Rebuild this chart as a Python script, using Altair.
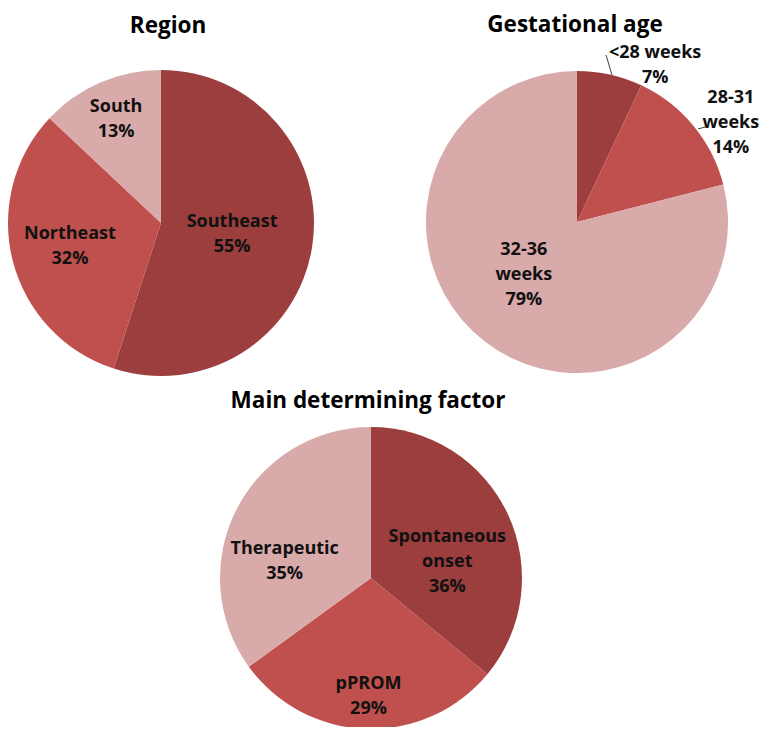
import altair as alt
import pandas as pd

# ---- data ----
region_labels = ["Southeast", "Northeast", "South"]
region_values = [55, 32, 13]

gest_labels = ["<28 weeks", "28-31\nweeks", "32-36\nweeks"]
gest_values = [7, 14, 79]

factor_labels = ["Spontaneous\nonset", "pPROM", "Therapeutic"]
factor_values = [36, 29, 35]

titles = ["Region", "Gestational age", "Main determining factor"]

# ---- style / layout ----
COLORS = ["#9B3E3D", "#C0504D", "#D9AAAA"]
FONT = "Open Sans"
LABEL_SIZE = 18
LINE_H = 25
TITLE_SIZE = 22.5
W, H = 752, 719

# pie centres / radii (pixels)
layout = {
    "Region": dict(cx=153, cy=215, r=153, tx=160, ty=25,
                   lr=[72, 94, 113], dt=[0, 0, 0]),
    "Gestational age": dict(cx=569, cy=214, r=151, tx=567, ty=24,
                            lr=[174.5, 183, 75], dt=[14.0, 6.8, 7.4]),
    "Main determining factor": dict(cx=363, cy=570, r=151, tx=360, ty=400,
                                    lr=[78, 119, 88], dt=[13.2, -0.6, -15.9]),
}


def pie(title, labels, values):
    L = layout[title]
    df = pd.DataFrame({
        "label": labels,
        "v": values,
        "k": list(range(len(values))),
        "lr": L["lr"],
        "dt": L["dt"],
    })
    base = alt.Chart(df)
    arc = base.mark_arc(radius=L["r"]).encode(
        theta=alt.Theta("v:Q", stack=True),
        color=alt.Color("k:O", scale=alt.Scale(domain=[0, 1, 2], range=COLORS), legend=None),
        order=alt.Order("k:Q"),
        x=alt.value(L["cx"]),
        y=alt.value(L["cy"]),
    )
    txt = base.transform_joinaggregate(
        total="sum(v)"
    ).transform_window(
        cum="sum(v)", sort=[alt.SortField("k")], frame=[None, 0]
    ).transform_calculate(
        mid="2*PI*(datum.cum - datum.v/2)/datum.total + datum.dt*PI/180",
        t="datum.label + '\\n' + datum.v + '%'",
    ).transform_calculate(
        nl="length(split(datum.t, '\\n'))",
    ).transform_calculate(
        px=f"{L['cx']} + datum.lr*sin(datum.mid)",
        py=f"{L['cy']} - datum.lr*cos(datum.mid) - (datum.nl - 1)*{LINE_H}/2",
    ).mark_text(
        font=FONT, fontWeight="bold", fontSize=LABEL_SIZE, color="#111111",
        lineBreak="\n", lineHeight=LINE_H, align="center", baseline="middle",
    ).encode(
        x=alt.X("px:Q", scale=None),
        y=alt.Y("py:Q", scale=None),
        text="t:N",
    )
    ttl = alt.Chart(pd.DataFrame({"t": [title]})).mark_text(
        font=FONT, fontWeight="bold", fontSize=TITLE_SIZE, color="#000000",
        align="center", baseline="alphabetic",
    ).encode(x=alt.value(L["tx"]), y=alt.value(L["ty"]), text="t:N")
    return [arc, txt, ttl]


layers = []
layers += pie(titles[0], region_labels, region_values)
layers += pie(titles[1], gest_labels, gest_values)
layers += pie(titles[2], factor_labels, factor_values)

# leader lines for the two small gestational-age slices
leaders = alt.Chart(pd.DataFrame({
    "x": [598, 690], "y": [47, 121], "x2": [604, 697], "y2": [67, 119]
})).mark_rule(color="#404040", strokeWidth=1).encode(
    x=alt.X("x:Q", scale=None), y=alt.Y("y:Q", scale=None),
    x2="x2:Q", y2="y2:Q",
)
layers.append(leaders)

chart = alt.layer(*layers).properties(
    width=W, height=H, autosize="none", padding=0
).configure_view(stroke=None)

chart.save("out.html", embed_options={"renderer": "svg", "actions": False})
